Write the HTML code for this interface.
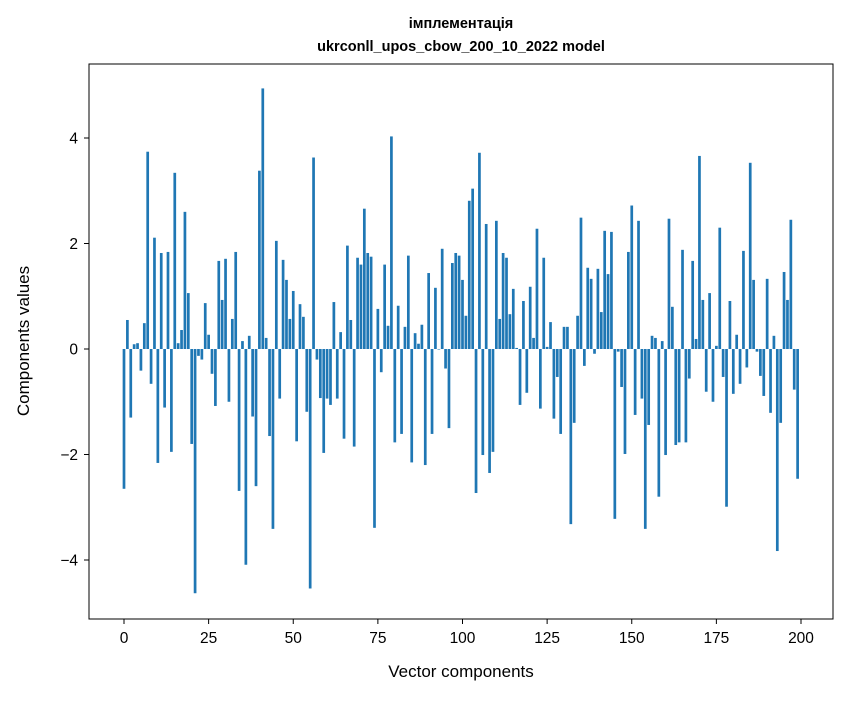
<!DOCTYPE html>
<html><head><meta charset="utf-8"><style>
body{margin:0;background:#fff;font-family:"Liberation Sans","DejaVu Sans",sans-serif}
</style></head><body>
<svg id="c" width="847" height="696" xmlns="http://www.w3.org/2000/svg">
<text x="461" y="28" text-anchor="middle" font-size="14.5" font-weight="bold">імплементація</text>
<text x="461" y="51" text-anchor="middle" font-size="14.5" font-weight="bold">ukrconll_upos_cbow_200_10_2022 model</text>
<g id="bars"></g>
<rect x="89" y="64" width="744" height="555" fill="none" stroke="#000" stroke-width="1"/>
<g id="xt"></g>
<g id="yt"></g>
<text x="461" y="677" text-anchor="middle" font-size="17">Vector components</text>
<text transform="translate(29,341) rotate(-90)" text-anchor="middle" font-size="17">Components values</text>
</svg>
<script>
const values = [-2.65,0.55,-1.3,0.09,0.11,-0.41,0.49,3.74,-0.66,2.11,
-2.16,1.82,-1.11,1.84,-1.95,3.34,0.11,0.36,2.6,1.06,
-1.8,-4.63,-0.13,-0.2,0.87,0.27,-0.47,-1.08,1.67,0.93,
1.71,-1.0,0.57,1.84,-2.69,0.15,-4.09,0.25,-1.28,-2.6,
3.38,4.94,0.21,-1.65,-3.41,2.05,-0.94,1.69,1.31,0.57,
1.1,-1.75,0.85,0.61,-1.19,-4.54,3.63,-0.2,-0.93,-1.97,
-0.94,-1.06,0.89,-0.94,0.32,-1.7,1.96,0.55,-1.85,1.73,
1.6,2.66,1.82,1.75,-3.39,0.76,-0.44,1.6,0.44,4.03,
-1.77,0.82,-1.61,0.42,1.77,-2.15,0.3,0.1,0.46,-2.2,
1.44,-1.61,1.16,-0.01,1.9,-0.37,-1.5,1.63,1.82,1.77,
1.31,0.63,2.81,3.04,-2.73,3.72,-2.01,2.37,-2.35,-1.95,
2.43,0.57,1.82,1.73,0.66,1.14,0.02,-1.06,0.91,-0.83,
1.18,0.21,2.28,-1.13,1.73,0.04,0.51,-1.32,-0.53,-1.61,
0.42,0.42,-3.32,-1.4,0.63,2.49,-0.32,1.54,1.33,-0.09,
1.52,0.7,2.24,1.42,2.22,-3.22,-0.05,-0.72,-1.99,1.84,
2.72,-1.25,2.43,-0.94,-3.41,-1.44,0.25,0.21,-2.8,0.15,
-2.01,2.47,0.8,-1.82,-1.77,1.88,-1.77,-0.56,1.67,0.19,
3.66,0.93,-0.81,1.06,-1.0,0.06,2.3,-0.53,-2.99,0.91,
-0.85,0.27,-0.66,1.86,-0.35,3.53,1.31,-0.05,-0.51,-0.89,
1.33,-1.21,0.25,-3.83,-1.4,1.46,0.93,2.45,-0.77,-2.46];
const xTicks = [0,25,50,75,100,125,150,175,200];
const yTicks = [-4,-2,0,2,4];
const NS="http://www.w3.org/2000/svg";
function xs(v){return 124+v*3.385;}
function ys(v){return 349-v*52.75;}
const gb=document.getElementById('bars');
values.forEach((v,i)=>{
  const r=document.createElementNS(NS,'rect');
  const y0=ys(Math.max(v,0)), y1=ys(Math.min(v,0));
  r.setAttribute('x',xs(i-0.4));r.setAttribute('width',3.385*0.8);
  r.setAttribute('y',y0);r.setAttribute('height',Math.max(y1-y0,0.01));
  r.setAttribute('fill','#1f77b4');
  
  
  gb.appendChild(r);
});
const gx=document.getElementById('xt');
xTicks.forEach(t=>{
  const l=document.createElementNS(NS,'line');
  l.setAttribute('x1',xs(t));l.setAttribute('x2',xs(t));l.setAttribute('y1',619);l.setAttribute('y2',624);l.setAttribute('stroke','#000');
  
  
  gx.appendChild(l);
  const tx=document.createElementNS(NS,'text');
  tx.setAttribute('x',xs(t));tx.setAttribute('y',643);tx.setAttribute('text-anchor','middle');tx.setAttribute('font-size','15.5');
  tx.textContent=t;
  
  
  gx.appendChild(tx);
});
const gy=document.getElementById('yt');
yTicks.forEach(t=>{
  const l=document.createElementNS(NS,'line');
  l.setAttribute('x1',84);l.setAttribute('x2',89);l.setAttribute('y1',ys(t));l.setAttribute('y2',ys(t));l.setAttribute('stroke','#000');
  
  
  gy.appendChild(l);
  const tx=document.createElementNS(NS,'text');
  tx.setAttribute('x',78);tx.setAttribute('y',ys(t)+5.5);tx.setAttribute('text-anchor','end');tx.setAttribute('font-size','15.5');
  tx.textContent=t<0?'\u2212'+Math.abs(t):String(t);
  
  
  gy.appendChild(tx);
});
</script>
</body></html>
